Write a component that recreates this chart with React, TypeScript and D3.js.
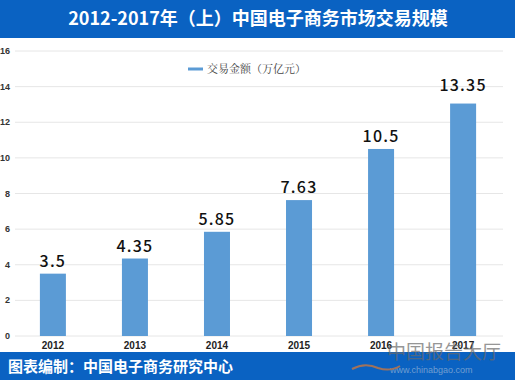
import React from "react";
import * as d3 from "d3";

const categories = ["2012", "2013", "2014", "2015", "2016", "2017"];
const barValues = [3.5, 4.35, 5.85, 7.63, 10.5, 13.05];
const labelValues = [3.5, 4.35, 5.85, 7.63, 10.5, 13.35];
const labelTexts = ["3.5", "4.35", "5.85", "7.63", "10.5", "13.35"];
const yTicks = [0, 2, 4, 6, 8, 10, 12, 14, 16];
const title = "2012-2017年（上）中国电子商务市场交易规模";
const legendLabel = "交易金额（万亿元）";
const sourceText = "图表编制：中国电子商务研究中心";

const W = 515;
const H = 380;

export default function App() {
  const x = d3.scaleBand<string>().domain(categories).range([12, 504]).paddingInner(0.683).paddingOuter(0.34);
  const y = d3.scaleLinear().domain([0, 16]).range([336, 51]);
  const blue = "#0a62c2";
  return (
    <svg width={W} height={H} style={{ position: "fixed", left: 0, top: 0 }} fontFamily="'Liberation Sans', Arial, sans-serif">
      <rect x={0} y={0} width={W} height={H} fill="#ffffff" />
      <rect x={0} y={0} width={W} height={38} fill={blue} />
      <text x={258} y={25} textAnchor="middle" fill="#ffffff" fontSize={18} fontWeight="bold" fontFamily="'Noto Sans CJK SC', sans-serif">{title}</text>

      {yTicks.map((t) => (
        <g key={t}>
          <line x1={15} x2={503} y1={y(t)} y2={y(t)} stroke="#e6e6e6" strokeWidth={1} />
          <text x={10} y={y(t) + 3} textAnchor="end" fontSize={9} fontWeight="bold" fill="#333">{t}</text>
        </g>
      ))}

      <line x1={188} x2={203} y1={69} y2={69} stroke="#5b9bd5" strokeWidth={3} />
      <text x={207} y={73} fontSize={11} fill="#444" fontFamily="'Noto Serif CJK SC', 'Noto Sans CJK SC', serif">{legendLabel}</text>

      {categories.map((c, i) => {
        const bx = x(c)!;
        const bw = x.bandwidth();
        return (
          <g key={c}>
            <rect x={bx} y={y(barValues[i])} width={bw} height={y(0) - y(barValues[i])} fill="#5b9bd5" />
            <text x={bx + bw / 2} y={y(labelValues[i]) - 7} textAnchor="middle" fontSize={16} letterSpacing={1.2} fill="#111" fontFamily="'Noto Sans CJK SC', sans-serif" fontWeight={500}>{labelTexts[i]}</text>
            <text x={bx + bw / 2} y={349} textAnchor="middle" fontSize={10} fontWeight="bold" fill="#222">{c}</text>
          </g>
        );
      })}

      <rect x={0} y={352} width={W} height={28} fill={blue} />
      <text x={8} y={372} fill="#ffffff" fontSize={15} fontWeight="bold" fontFamily="'Noto Sans CJK SC', sans-serif">{sourceText}</text>

      <g opacity={0.7}>
        <text x={387} y={359} fontSize={19} fill="#6a6a6a" fontFamily="'Noto Sans CJK SC', sans-serif">中国报告大厅</text>
        <text x={390} y={373} fontSize={9} fill="#9ab8d8">www.chinabgao.com</text>
        <path d="M352,369 Q365,362 378,368 Q390,372 400,366" stroke="#e07a30" strokeWidth={2} fill="none" />
      </g>
    </svg>
  );
}
